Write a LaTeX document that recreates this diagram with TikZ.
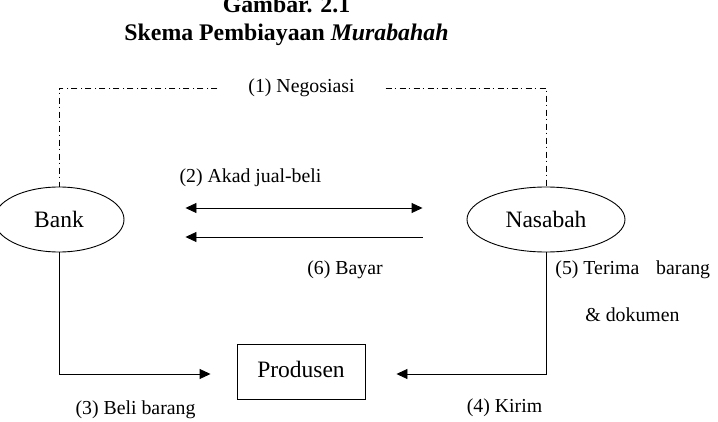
\documentclass[tikz,border=0pt]{standalone}
\usepackage{fontspec}
\setmainfont{Liberation Serif}
\usetikzlibrary{arrows.meta,shapes.geometric}

\begin{document}
\begin{tikzpicture}[x=1pt,y=-1pt,line width=0.9pt,>={Triangle[length=11pt,width=10pt]},
 party/.style={draw,ellipse,inner sep=0pt,font=\fontsize{23.5}{26}\selectfont},
 lbl/.style={inner sep=0pt,font=\fontsize{19.8}{22}\selectfont},
 ttl/.style={anchor=base,inner sep=0pt,font=\fontsize{23.8}{26}\selectfont\bfseries},
 dashdot/.style={dash pattern=on 6pt off 3pt on 1.5pt off 3.5pt}]
\useasboundingbox (0,0) rectangle (718,422);
\node[ttl] (ttl1) at (286.5,13) {Gambar. 2.1};
\node[ttl] (ttl2) at (286.5,41) {Skema Pembiayaan \textit{Murabahah}};
\node[party,minimum width=130pt,minimum height=65pt] (bank) at (59,219.5) {Bank};
\node[party,minimum width=158pt,minimum height=65pt] (nasabah) at (546,219.5) {Nasabah};
\node[draw,minimum width=128pt,minimum height=55pt,font=\fontsize{23.5}{26}\selectfont] (prod) at (301,371.5) {\raisebox{5pt}{Produsen}\hspace{7pt}};
% (1) negosiasi
\node[lbl,inner xsep=30.5pt] (neg) at (301.5,88) {(1) Negosiasi};
\draw[dashdot] (neg.west) -| (bank.north);
\draw[dashdot] (neg.east) -| (nasabah.north);
% (2) dan (6)
\node[lbl,anchor=base] (akad) at (250.5,183) {(2) Akad jual-beli};
\draw[<->,shorten <=61pt,shorten >=44pt] ([yshift=11.5pt]bank.east) -- ([yshift=11.5pt]nasabah.west);
\draw[->,shorten <=44pt,shorten >=61pt] ([yshift=-17.5pt]nasabah.west) -- ([yshift=-17.5pt]bank.east);
\node[lbl,anchor=base] (bayar) at (345,275) {(6) Bayar};
% (3) dan (4)
\draw[->,shorten >=26pt] (bank.south) |- ([yshift=-2.5pt]prod.west);
\draw[->,shorten >=31pt] (nasabah.south) |- ([yshift=-2.5pt]prod.east);
\node[lbl,anchor=base] (beli) at (135.5,414) {(3) Beli barang};
\node[lbl,anchor=base] (kirim) at (504.5,412) {(4) Kirim};
% (5)
\node[lbl,anchor=base west] (terima) at (555,275) {(5) Terima\hspace*{12pt} barang};
\node[lbl,anchor=base west] (dok) at (585,321) {\& dokumen};
\end{tikzpicture}
\end{document}
